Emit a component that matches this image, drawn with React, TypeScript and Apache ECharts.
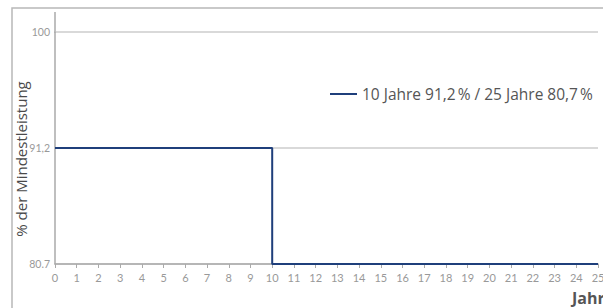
import React, { useEffect, useRef } from "react";
import * as echarts from "echarts";

const seriesName = "10 Jahre 91,2\u202F% / 25 Jahre 80,7\u202F%";
const years = [0, 10, 10, 25];
const values = [91.2, 91.2, 80.7, 80.7];
const yTickValues = [80.7, 91.2, 100];
const yTickLabels = ["80.7", "91,2", "100"];
const xTicks = [0, 25, 1];
const yAxisTitle = "% der Mindestleistung";
const xAxisTitle = "Jahr";

export default function App() {
  const ref = useRef<HTMLDivElement>(null);
  useEffect(() => {
    if (!ref.current) return;
    const chart = echarts.init(ref.current, null, { renderer: "svg" });
    const cats = yTickValues.map(String);
    chart.setOption({
      animation: false,
      textStyle: { fontFamily: "Lato" },
      graphic: [
        {
          type: "rect",
          shape: { x: 12, y: 8, width: 800, height: 500 },
          style: { fill: "none", stroke: "#b8b8b8", lineWidth: 1.5 },
          silent: true,
        },
        {
          type: "line",
          shape: { x1: 55, y1: 12, x2: 55, y2: 33 },
          style: { stroke: "#aaaaaa", lineWidth: 1.5 },
          silent: true,
        },
      ],
      grid: { left: 55, right: 5, top: 32, bottom: 44, containLabel: false, outerBoundsMode: "none" },
      legend: {
        left: 330,
        top: 86,
        padding: 0,
        icon: "rect",
        itemWidth: 27,
        itemHeight: 2,
        itemGap: 5,
        textStyle: { fontSize: 15.5, color: "#555", fontFamily: "Open Sans" },
        data: [seriesName],
      },
      xAxis: {
        type: "value",
        min: xTicks[0],
        max: xTicks[1],
        interval: xTicks[2],
        name: xAxisTitle,
        nameLocation: "end",
        nameGap: -26,
        nameMoveOverlap: false,
        nameTextStyle: {
          fontSize: 16,
          fontWeight: "bold",
          color: "#555",
          fontFamily: "Open Sans",
          align: "left",
          verticalAlign: "top",
          padding: [26, 0, 0, 0],
        },
        axisLine: { show: true, lineStyle: { color: "#aaaaaa", width: 1.5 } },
        axisTick: { show: true, length: 4, lineStyle: { color: "#aaaaaa" } },
        axisLabel: { color: "#999", fontSize: 11, margin: 8, fontFamily: "Lato" },
        splitLine: { show: false },
      },
      yAxis: {
        type: "category",
        data: cats,
        boundaryGap: false,
        name: yAxisTitle,
        nameLocation: "middle",
        nameGap: 27,
        nameMoveOverlap: false,
        nameRotate: 90,
        nameTextStyle: { fontSize: 15, color: "#4a4a4a", fontFamily: "Open Sans", padding: [0, 22, 0, 0] },
        axisLine: { show: true, lineStyle: { color: "#aaaaaa", width: 1.5 } },
        axisTick: { show: false },
        axisLabel: {
          color: "#999",
          fontSize: 10.5,
          margin: 5,
          formatter: (v: string) => yTickLabels[cats.indexOf(v)],
        },
        splitLine: { show: true, lineStyle: { color: "#cccccc", width: 1.5 } },
      },
      series: [
        {
          name: seriesName,
          type: "line",
          symbol: "none",
          data: years.map((x, i) => [x, String(values[i])]),
          lineStyle: { color: "#1f3f7b", width: 2 },
          itemStyle: { color: "#1f3f7b" },
          z: 5,
        },
      ],
    });
    return () => chart.dispose();
  }, []);
  return (
    <div
      ref={ref}
      style={{ position: "absolute", left: 0, top: 0, width: 603, height: 308 }}
    />
  );
}
